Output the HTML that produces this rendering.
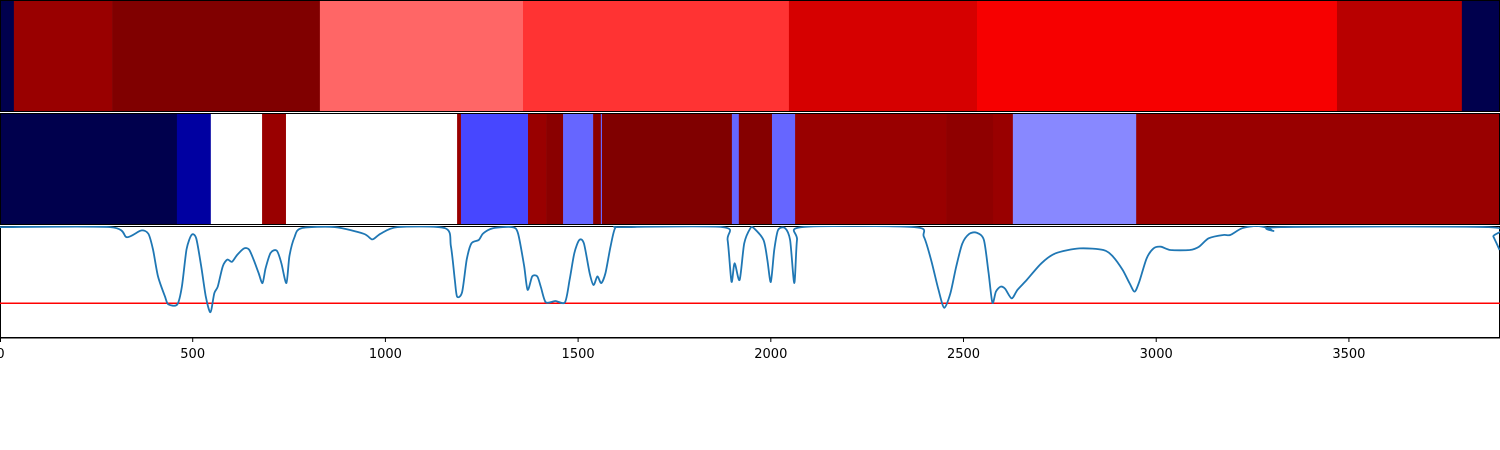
<!DOCTYPE html>
<html><head><meta charset="utf-8"><style>
html,body{margin:0;padding:0;background:#fff;}
svg{display:block;font-family:"DejaVu Sans","Liberation Sans",sans-serif;}
</style></head><body>
<svg id="chart" width="1500" height="450" xmlns="http://www.w3.org/2000/svg">
<defs><clipPath id="p3clip"><rect x="0" y="226" width="1500" height="112"/></clipPath></defs>
</svg>
<script>
const xMax = 3892;
const topBounds = [0,36,291,830,1357,2047,2535,3469,3793,3892];
const topValues = [0.0,0.95,1.0,0.65,0.7,0.83,0.765,0.89,0.0];
const midBounds = [0,459,547,680,742,1186,1196,1370,1417,1461,1539,1559,1562,1899,1917,2003,2063,2455,2577,2628,2948,3892];
const midValues = [0.0,0.118,0.5,0.95,0.5,0.95,0.32,0.95,0.98,0.35,0.98,0.35,1.0,0.35,0.99,0.35,0.95,0.97,0.95,0.383,0.95];
const lineX = [0,286,329,366,385,397,410,428,437,460,472,484,497,509,522,534,546,556,565,578,590,602,615,633,646,658,671,681,689,702,718,730,743,751,764,782,869,944,966,987,1031,1155,1170,1180,1186,1199,1211,1223,1242,1254,1279,1329,1344,1360,1369,1381,1394,1403,1416,1441,1466,1478,1490,1503,1515,1530,1540,1550,1560,1571,1584,1596,1615,1875,1888,1898,1906,1919,1931,1947,1956,1981,1991,2000,2009,2019,2037,2050,2061,2068,2081,2372,2397,2416,2435,2450,2466,2481,2497,2515,2534,2553,2565,2575,2584,2596,2608,2625,2640,2664,2702,2739,2801,2863,2888,2913,2931,2944,2956,2975,2993,3012,3037,3087,3111,3136,3174,3192,3223,3261,3292,3304,3323,3863,3875,3891];
const lineY = [0.99,0.99,0.90,0.96,0.93,0.79,0.55,0.37,0.30,0.30,0.46,0.79,0.92,0.89,0.64,0.37,0.23,0.40,0.46,0.64,0.70,0.68,0.74,0.80,0.79,0.70,0.58,0.49,0.62,0.76,0.78,0.67,0.49,0.73,0.90,0.98,0.99,0.93,0.88,0.93,0.99,0.98,0.82,0.52,0.37,0.41,0.70,0.845,0.875,0.935,0.98,0.99,0.935,0.64,0.43,0.55,0.55,0.46,0.32,0.33,0.32,0.52,0.756,0.875,0.845,0.577,0.473,0.55,0.49,0.58,0.815,0.98,0.99,0.99,0.875,0.503,0.667,0.518,0.845,0.98,0.98,0.875,0.70,0.50,0.79,0.965,0.98,0.875,0.49,0.875,0.99,0.99,0.905,0.696,0.43,0.27,0.40,0.637,0.845,0.93,0.94,0.875,0.58,0.315,0.414,0.458,0.44,0.354,0.43,0.518,0.667,0.756,0.80,0.786,0.726,0.607,0.488,0.414,0.503,0.71,0.80,0.815,0.786,0.786,0.815,0.89,0.92,0.92,0.98,1.0,0.98,0.955,0.99,0.99,0.905,0.786];
const threshold = [0.31];
const tickValues = [0,500,1000,1500,2000,2500,3000,3500];
const tickLabels = ["0","500","1000","1500","2000","2500","3000","3500"];

const NS = "http://www.w3.org/2000/svg";
const svg = document.getElementById('chart');
const W = 1500;
const sx = v => v / xMax * W;
const P3top = 226, P3bot = 338;
const sy = v => P3bot - v * (P3bot - P3top);
function seismic(t){
  let r,g,b;
  if(t<0.25){r=0;g=0;b=0.3+t/0.25*0.7;}
  else if(t<0.5){const u=(t-0.25)/0.25;r=u;g=u;b=1;}
  else if(t<0.75){const u=(t-0.5)/0.25;r=1;g=1-u;b=1-u;}
  else {const u=(t-0.75)/0.25;r=1-0.5*u;g=0;b=0;}
  return `rgb(${Math.round(r*255)},${Math.round(g*255)},${Math.round(b*255)})`;
}
function mk(tag, attrs){const e=document.createElementNS(NS,tag);for(const k in attrs)e.setAttribute(k,attrs[k]);svg.appendChild(e);return e;}

function strip(bounds, values, y0, y1, name){
  for(let i=0;i<values.length;i++){
    const x0=sx(bounds[i]), x1=sx(bounds[i+1]);
    const r=mk('rect',{x:x0,y:y0,width:Math.max(0,x1-x0)+0.3,height:y1-y0,fill:seismic(values[i])});
    
    
  }
  const f=mk('rect',{x:0.5,y:y0+0.5,width:W-1,height:y1-y0-1,fill:'none',stroke:'#000','stroke-width':1});
  
  
}
strip(topBounds, topValues, 0, 112, 'top-heatmap');
strip(midBounds, midValues, 113, 225, 'middle-heatmap');

const frame=mk('rect',{x:0.5,y:226.5,width:W-1,height:111,fill:'#fff',stroke:'#000','stroke-width':1});



const th=mk('line',{x1:0,x2:W,y1:sy(threshold[0]),y2:sy(threshold[0]),stroke:'#ff0000','stroke-width':1.5});



// smooth (Catmull-Rom) path through points
const pts = lineX.map((x,i)=>[sx(x), sy(lineY[i])]);
let d = 'M'+pts[0][0].toFixed(1)+','+pts[0][1].toFixed(1);
const k = 0.4/3;
for(let i=0;i<pts.length-1;i++){
  const p0=pts[Math.max(0,i-1)], p1=pts[i], p2=pts[i+1], p3=pts[Math.min(pts.length-1,i+2)];
  const c1=[p1[0]+(p2[0]-p0[0])*k, p1[1]+(p2[1]-p0[1])*k];
  const c2=[p2[0]-(p3[0]-p1[0])*k, p2[1]-(p3[1]-p1[1])*k];
  d += 'C'+c1[0].toFixed(1)+','+c1[1].toFixed(1)+' '+c2[0].toFixed(1)+','+c2[1].toFixed(1)+' '+p2[0].toFixed(1)+','+p2[1].toFixed(1);
}
const ln=mk('path',{d:d,fill:'none',stroke:'#1f77b4','stroke-width':1.8,'stroke-linejoin':'round','clip-path':'url(#p3clip)'});



const ax=mk('line',{x1:0,x2:W,y1:338,y2:338,stroke:'#000','stroke-width':1});


tickValues.forEach((v,i)=>{
  const x=Math.max(0.5,sx(v));
  const t=mk('line',{x1:x,x2:x,y1:338,y2:342,stroke:'#000','stroke-width':1});
  
  
  const l=mk('text',{x:x,y:358,'text-anchor':'middle','font-size':13,fill:'#000'});
  l.textContent=tickLabels[i];
  
  
});
</script>
</body></html>
